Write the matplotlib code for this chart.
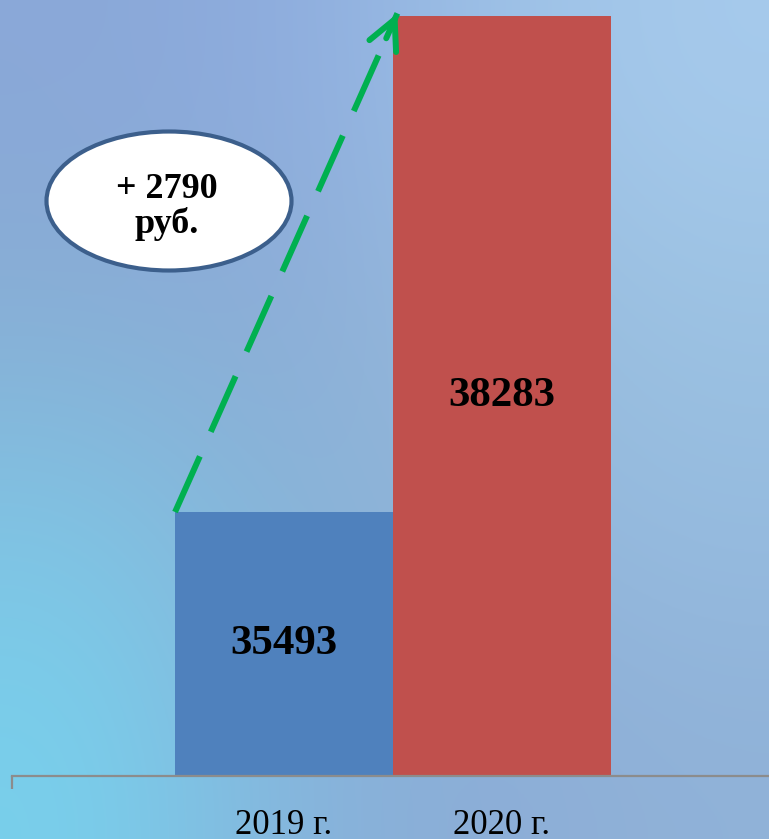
import numpy as np
import matplotlib.pyplot as plt
from matplotlib.patches import Ellipse

# data
years = ['2019 г.', '2020 г.']
salary = [35493, 38283]
bar_colors = ['#4f81bd', '#c0504d']
growth_text = '+ 2790\nруб.'

plt.rcParams['font.family'] = ['Liberation Serif', 'DejaVu Serif']

fig = plt.figure(figsize=(7.69, 8.39), dpi=100)

# background gradient (slide picture approximation)
bg = fig.add_axes([0, 0, 1, 1], zorder=0)
grid = np.array([
    [[138, 168, 216], [142, 172, 222], [156, 192, 230], [166, 202, 236]],
    [[136, 174, 212], [140, 172, 214], [150, 186, 220], [156, 194, 226]],
    [[128, 196, 228], [136, 178, 214], [146, 182, 218], [150, 188, 224]],
    [[120, 208, 236], [134, 180, 220], [140, 172, 214], [144, 178, 216]],
]) / 255.0
bg.imshow(grid, aspect='auto', interpolation='bicubic', extent=[0, 1, 0, 1])
bg.set_axis_off()

# main chart
ax = fig.add_axes([12 / 769, 1 - 776 / 839, 1 - 12 / 769, 776 / 839], zorder=1)
ax.patch.set_alpha(0)
x = np.arange(len(years))
ax.bar(x, salary, width=1.0, color=bar_colors, zorder=2)
ax.set_xlim(-1.248, 2.225)
ax.set_ylim(34008, 38373)

for xi, v in zip(x, salary):
    ax.text(xi, (ax.get_ylim()[0] + v) / 2, str(v), ha='center', va='center',
            fontsize=31, fontweight='bold', color='black', zorder=3)

for s in ['top', 'right', 'left']:
    ax.spines[s].set_visible(False)
ax.spines['bottom'].set_color('#8c8c8c')
ax.spines['bottom'].set_linewidth(1.6)
ax.set_yticks([])
ax.set_xticks(x)
ax.set_xticklabels(years, fontsize=25)
ax.tick_params(axis='x', length=0, pad=24)
ax.set_xticks([ax.get_xlim()[0]], minor=True)
ax.tick_params(axis='x', which='minor', length=9, width=1.6, color='#8c8c8c')

# dashed growth arrow: from top-left of first bar to top-left of second bar
green = '#00b050'
x0, y0 = x[0] - 0.5, salary[0]
x1, y1 = x[1] - 0.48, salary[1] + 15
ax.plot([x0, x1], [y0, y1], color=green, lw=4.3, dashes=(10.2, 4.5),
        solid_capstyle='butt', dash_capstyle='butt', clip_on=False, zorder=4)
ax.annotate('', xy=(x1, y1), xytext=(x1 - (x1 - x0) * 0.05, y1 - (y1 - y0) * 0.05),
            arrowprops=dict(arrowstyle='->,head_length=2.1,head_width=1.05',
                            color=green, lw=4.3, shrinkA=0, shrinkB=0,
                            capstyle='round', joinstyle='round'),
            annotation_clip=False, zorder=4)

# callout ellipse
ell = Ellipse((169 / 769, 1 - 201 / 839), 245 / 769, 139 / 839,
              transform=fig.transFigure, facecolor='white',
              edgecolor='#3c5f8c', linewidth=3, zorder=5)
fig.add_artist(ell)
fig.text(167 / 769, 1 - 207 / 839, growth_text, ha='center', va='center',
         fontsize=26, fontweight='bold', linespacing=1.05, zorder=6)

fig.savefig('out.png', dpi=100)
